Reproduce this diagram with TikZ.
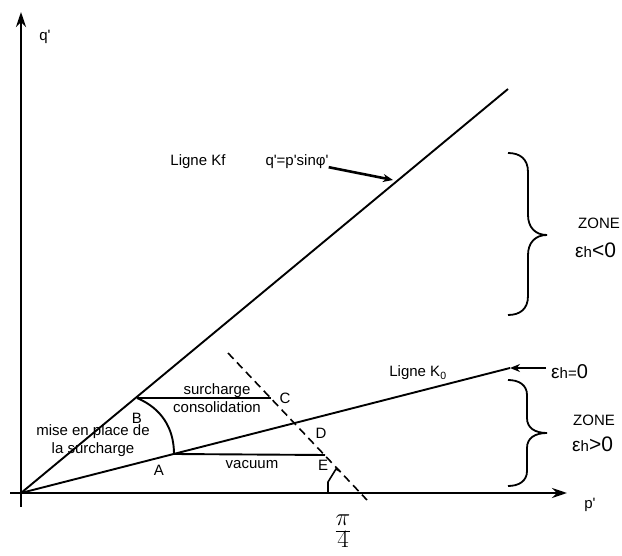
\documentclass[tikz,border=0pt]{standalone}
\usepackage{fontspec}
\setmainfont{Liberation Sans}[Ligatures=TeXOff]
\usepackage{amsmath}
\usetikzlibrary{arrows.meta}

\newcommand{\epsh}[2]{{\fontsize{19}{19}\selectfont ε}{\fontsize{15}{15}\selectfont h}{\fontsize{#1}{#1}\selectfont #2}}

\begin{document}
\begin{tikzpicture}[
  x=1pt, y=1pt,
  lbl/.style={inner sep=0pt, font=\fontsize{15}{18}\selectfont, align=center},
  zone/.style={inner sep=0pt, font=\fontsize{15}{16}\selectfont},
  axis/.style={line width=2.6pt, -{Stealth[length=15pt, width=10pt]}},
  ligne/.style={line width=1.9pt},
  arr/.style={line width=2.6pt, -{Stealth[length=10pt, width=8pt]}},
  accol/.style={line width=1.8pt},
  tiret/.style={line width=1.6pt, dash pattern=on 8pt off 5pt}
]
  \useasboundingbox (0,0) rectangle (622,555);

  % axes
  \coordinate (O) at (21,62);
  \coordinate (xstart) at (10,62);
  \coordinate (xend) at (567,62);
  \coordinate (ystart) at (21,48);
  \coordinate (yend) at (21,543);
  \draw[axis] (xstart) -- (xend);
  \draw[axis] (ystart) -- (yend);
  \node[lbl] (qlab) at (45,518) {q'};
  \node[lbl] (plab) at (590,50) {p'};
  \node[inner sep=0pt] (quart) at (343,22)
    {\Huge\renewcommand{\arraystretch}{0.6}\setlength{\arraycolsep}{0pt}$\begin{array}{c}\pi\\\hline 4\end{array}$};

  % lignes Kf et K0
  \coordinate (kfend) at (508,466);
  \coordinate (kzend) at (510,187);
  \draw[ligne] (O) -- (kfend);
  \draw[ligne] (O) -- (kzend);
  \node[lbl] (kflab) at (198,393) {Ligne Kf};
  \node[lbl] (eq) at (297,393) {q'=p'sinφ'};
  \coordinate (kfpt) at (393,375);
  \draw[arr] ([yshift=2pt]eq.south east) -- (kfpt);
  \node[lbl] (kzlab) at (418,182) {Ligne K\textsubscript{0}};

  % chemins
  \coordinate (B) at (137,157);
  \coordinate (A) at (174,101);
  \coordinate (C) at (271,157);
  \coordinate (E) at (325,100);
  \draw[ligne] (B) to[out=-23, in=90] (A);
  \draw[ligne] (B) -- (C);
  \draw[ligne] (A) -- (E);
  \coordinate (dtop) at (228,202);
  \coordinate (dbot) at (367,55);
  \draw[tiret] (dtop) -- (dbot);
  \draw[line width=1.6pt] (328,62) -- (328,73) -- (336,86) -- (340,84);

  \node[lbl] (Blab) at (137,137) {B};
  \node[lbl] (Alab) at (159,85) {A};
  \node[lbl] (Clab) at (285,157) {C};
  \node[lbl] (Dlab) at (321,122) {D};
  \node[lbl] (Elab) at (323,90) {E};
  \node[lbl] (surch) at (217,157) {surcharge\\consolidation};
  \node[lbl] (vac) at (252,90) {vacuum};
  \node[lbl] (mise) at (93,114) {mise en place de\\la surcharge};

  % zones
  \draw[accol] (508,402) .. controls (520,402) and (528,396) .. (528,383)
    -- (528,340) .. controls (528,328) and (535,320) .. (547,320)
    .. controls (535,320) and (528,312) .. (528,300)
    -- (528,259) .. controls (528,246) and (520,240) .. (508,240);
  \draw[accol] (508,175) .. controls (519,175) and (527,170) .. (527,160)
    -- (527,137) .. controls (527,127) and (535,122) .. (547,122)
    .. controls (535,122) and (527,117) .. (527,107)
    -- (527,84) .. controls (527,74) and (519,69) .. (508,69);
  \node[zone] (zhaut) at (599,332) {ZONE};
  \node[zone, anchor=base west] (ehaut) at (575,297) {\epsh{21}{<0}};
  \node[zone] (zbas) at (594,135) {ZONE};
  \node[zone, anchor=base west] (ebas) at (572,103) {\epsh{21}{>0}};
  \node[zone, anchor=base west] (ezero) at (551,176) {\epsh{20}{{\fontsize{15}{15}\selectfont=}0}};
  \draw[arr] ([xshift=-5pt]ezero.west |- kzend) -- (kzend);
\end{tikzpicture}
\end{document}
